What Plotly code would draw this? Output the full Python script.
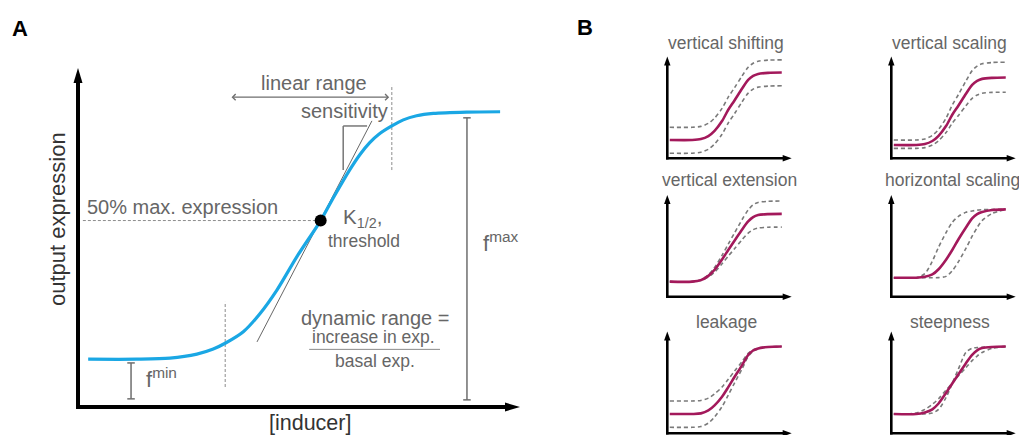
import plotly.graph_objects as go

W, H = 1019, 435
FONT = "Liberation Sans, Arial, Helvetica, sans-serif"
TEXT_GREY = "#666666"
LABEL_DARK = "#333333"
GUIDE_GREY = "#8c8c8c"
BLUE = "#1aa7e4"
CRIMSON = "#a3195b"
DASH_GREY = "#7a7a7a"

# ---------------- Panel A: response of a sensor to its inducer ----------------
INDUCER = [2.3, 13.3, 20.8, 26.9, 30.6, 33.3, 37.4, 41.2, 45.0, 49.5, 54.9,
           57.8, 61.3, 63.8, 66.0, 68.0, 71.0, 73.6, 76.6, 80.4, 87.9, 95.5]
EXPRESSION = [14.1, 14.1, 14.4, 15.6, 17.1, 18.8, 22.2, 27.6, 34.5, 44.3, 55.0,
              61.8, 69.6, 74.5, 78.0, 80.4, 82.9, 84.7, 85.9, 86.6, 87.0, 87.1]
K_HALF = 54.9        # inducer level giving half-maximal expression
HALF_EXPR = 55.0     # 50 % max. expression
TANGENT_X = [40.5, 66.5]
TANGENT_Y = [19.2, 84.4]

# ---------------- Panel B: how each parameter reshapes the curve ----------------
X_B = [2, 20, 27, 33, 38, 44, 49, 54, 60, 65, 69, 73, 81, 92]

TITLES_B = ["vertical shifting", "vertical scaling", "vertical extension",
            "horizontal scaling", "leakage", "steepness"]

SOLID_B = [
    [18.0, 18.0, 18.9, 21.9, 27.0, 36.6, 47.7, 56.8, 68.3, 77.1, 81.0, 83.0, 84.0, 84.3],
    [13.1, 13.1, 14.0, 17.0, 22.1, 31.7, 42.8, 51.9, 63.4, 72.2, 76.1, 78.1, 79.1, 79.4],
    [14.8, 14.8, 16.3, 20.5, 26.5, 36.6, 45.9, 55.0, 65.9, 74.0, 78.3, 80.3, 81.2, 81.4],
    [18.7, 18.7, 19.6, 21.9, 27.0, 36.4, 45.9, 56.5, 68.1, 77.0, 81.2, 83.2, 85.2, 85.9],
    [19.0, 19.0, 19.6, 22.5, 27.5, 36.0, 45.4, 55.3, 66.8, 77.0, 81.4, 83.4, 84.9, 85.3],
    [19.0, 19.0, 20.5, 23.6, 29.3, 39.7, 49.0, 58.1, 69.0, 77.2, 81.6, 83.8, 84.9, 85.3],
]
DASHED_B_1 = [
    [30.5, 30.5, 31.4, 34.4, 39.5, 49.1, 60.2, 69.3, 80.8, 89.6, 93.5, 95.5, 96.5, 96.8],
    [18.0, 18.0, 19.0, 22.5, 28.4, 39.5, 52.3, 62.8, 76.0, 86.2, 90.7, 93.0, 94.2, 94.5],
    [14.8, 14.8, 16.6, 21.6, 28.7, 40.7, 51.8, 62.6, 75.6, 85.2, 90.4, 92.7, 93.8, 94.1],
    [18.7, 18.7, 22.7, 34.9, 48.7, 62.9, 73.1, 79.0, 83.0, 84.3, 85.1, 85.5, 85.8, 86.0],
    [31.8, 31.8, 32.3, 34.6, 38.7, 45.5, 53.1, 61.1, 70.4, 78.6, 82.2, 83.8, 85.0, 85.3],
    [19.0, 19.0, 19.1, 19.9, 23.5, 35.2, 49.1, 63.4, 79.6, 83.7, 84.2, 84.6, 85.0, 85.3],
]
DASHED_B_2 = [
    [5.0, 5.0, 5.9, 8.9, 14.0, 23.6, 34.7, 43.8, 55.3, 64.1, 68.0, 70.0, 71.0, 71.3],
    [9.8, 9.8, 10.5, 13.0, 17.3, 25.3, 34.5, 42.1, 51.7, 59.0, 62.3, 64.0, 64.8, 65.0],
    [14.8, 14.8, 16.0, 19.4, 24.2, 32.3, 39.8, 47.2, 55.9, 62.5, 65.9, 67.5, 68.3, 68.4],
    [18.7, 18.7, 18.7, 18.7, 18.8, 20.0, 25.5, 34.5, 47.5, 59.5, 68.0, 74.8, 81.8, 85.8],
    [5.9, 5.9, 6.6, 10.1, 16.1, 26.2, 37.5, 49.4, 63.1, 75.4, 80.6, 83.0, 84.8, 85.3],
    [19.0, 20.0, 23.5, 28.5, 34.0, 42.5, 49.3, 56.5, 64.5, 71.5, 76.0, 79.5, 83.5, 85.3],
]

# ---------------- geometry of the subplots (pixels) ----------------
# origin pixel, pixels per data unit and the clip box of every subplot
A_GEOM = dict(ox=78.0, oy=407.0, sx=4.42, sy=3.39, box=(56, 542, 46, 430))
B_COLS = [667.3, 891.3]
B_ROWS = [158.3, 296.7, 433.3]
B_SX, B_SY = 1.244, 1.017
B_TITLE_POS = [(726, 43), (949, 43), (729, 180), (952, 180), (726, 322), (950, 322)]

fig = go.Figure()
layout = {}
shapes = []
annotations = []


def axis_names(idx):
    s = "" if idx == 1 else str(idx)
    return "x" + s, "y" + s, "xaxis" + s, "yaxis" + s


def add_axes(idx, ox, oy, sx, sy, box):
    px0, px1, py0, py1 = box
    xn, yn, xk, yk = axis_names(idx)
    layout[xk] = dict(domain=[px0 / W, px1 / W], range=[(px0 - ox) / sx, (px1 - ox) / sx],
                      visible=False, fixedrange=True, anchor=yn)
    layout[yk] = dict(domain=[1 - py1 / H, 1 - py0 / H], range=[(oy - py1) / sy, (oy - py0) / sy],
                      visible=False, fixedrange=True, anchor=xn)
    return xn, yn


def arrow_axes(xn, yn, sx, sy, width, head_len, head_half):
    """Black x/y axis lines ending in filled arrow heads at data value 100."""
    hx = head_len / sx
    hy = head_len / sy
    shapes.append(dict(type="line", xref=xn, yref=yn, x0=0, x1=0, y0=-width / 2 / sy, y1=100 - hy * 0.8,
                       layer="below", line=dict(color="black", width=width)))
    shapes.append(dict(type="line", xref=xn, yref=yn, x0=-width / 2 / sx, x1=100 - hx * 0.8, y0=0, y1=0,
                       layer="below", line=dict(color="black", width=width)))
    wx = head_half / sx
    wy = head_half / sy
    shapes.append(dict(type="path", xref=xn, yref=yn, fillcolor="black", line=dict(width=0),
                       layer="below", path=f"M {-wx},{100 - hy} L 0,100 L {wx},{100 - hy} Z"))
    shapes.append(dict(type="path", xref=xn, yref=yn, fillcolor="black", line=dict(width=0),
                       layer="below", path=f"M {100 - hx},{-wy} L 100,0 L {100 - hx},{wy} Z"))


# ================= Panel A =================
xa, ya = add_axes(1, **A_GEOM)
arrow_axes(xa, ya, A_GEOM["sx"], A_GEOM["sy"], width=4, head_len=15, head_half=4.5)


def guide(x0, y0, x1, y1, dash="3px,2px", color=GUIDE_GREY, width=1):
    shapes.append(dict(type="line", xref=xa, yref=ya, x0=x0, y0=y0, x1=x1, y1=y1, layer="below",
                       line=dict(color=color, width=width, dash=dash)))


# half-maximum level and the edges of the linear range
guide(1.1, HALF_EXPR, K_HALF, HALF_EXPR)
guide(33.3, 5.9, 33.3, 31.0)
guide(71.0, 69.9, 71.0, 95.0)

# slope triangle for sensitivity
guide(60.0, 69.9, 60.0, 82.9, dash="solid", color="#777777", width=1.5)
guide(60.0, 82.9, 65.4, 82.9, dash="solid", color="#777777", width=1.5)

# f_min and f_max brackets
for bx, b0, b1 in [(12.0, 2.4, 13.0), (88.0, 2.1, 85.3)]:
    guide(bx, b0, bx, b1, dash="solid", color="#6e6e6e", width=1.5)
    guide(bx - 0.85, b0, bx + 0.85, b0, dash="solid", color="#6e6e6e", width=1.5)
    guide(bx - 0.85, b1, bx + 0.85, b1, dash="solid", color="#6e6e6e", width=1.5)

# fraction bar of the dynamic-range definition
guide(52.3, 17.0, 81.9, 17.0, dash="solid", color="#8a8a8a", width=1)

# tangent at the threshold
fig.add_trace(go.Scatter(x=TANGENT_X, y=TANGENT_Y, xaxis=xa, yaxis=ya, mode="lines",
                         line=dict(color="#555555", width=0.9), hoverinfo="skip", showlegend=False))
# response curve
fig.add_trace(go.Scatter(x=INDUCER, y=EXPRESSION, xaxis=xa, yaxis=ya, mode="lines",
                         line=dict(color=BLUE, width=3.2, shape="spline", smoothing=0.8),
                         hoverinfo="skip", showlegend=False))
# threshold point
fig.add_trace(go.Scatter(x=[K_HALF], y=[HALF_EXPR], xaxis=xa, yaxis=ya, mode="markers",
                         marker=dict(color="black", size=12, line=dict(width=0)),
                         hoverinfo="skip", showlegend=False))

# linear range double arrow
annotations.append(dict(x=70.4, y=91.4, ax=34.4, ay=91.4, xref=xa, yref=ya, axref=xa, ayref=ya,
                        text="", showarrow=True, arrowhead=4, startarrowhead=4, arrowside="end+start",
                        arrowwidth=1.1, arrowsize=1.1, startarrowsize=1.1, arrowcolor="#6e6e6e",
                        standoff=0, startstandoff=0))


def label_a(text, x, y, size, xanchor="center", color=TEXT_GREY, **kw):
    annotations.append(dict(text=text, x=x, y=y, xref=xa, yref=ya, showarrow=False,
                            xanchor=xanchor, yanchor="middle",
                            font=dict(family=FONT, size=size, color=color), **kw))


label_a("50% max. expression", 1.5, 59.1, 20, xanchor="left")
label_a("linear range", 53.4, 95.7, 20)
label_a("sensitivity", 60.2, 87.2, 20)
label_a("K<sub>1/2</sub>,", 59.4, 55.9, 20.5, xanchor="left")
label_a("threshold", 64.7, 48.9, 17.5)
label_a("f<sup>max</sup>", 91.1, 48.6, 22, xanchor="left")
label_a("f<sup>min</sup>", 14.9, 8.6, 22, xanchor="left")
label_a("dynamic range =", 67.2, 26.3, 20)
label_a("increase in exp.", 66.9, 20.7, 17.5)
label_a("basal exp.", 67.3, 13.7, 17.5)
label_a("[inducer]", 52.6, -4.8, 21.5, color=LABEL_DARK)
label_a("output expression", -4.8, 55.4, 22, color=LABEL_DARK, textangle=-90)

# ================= Panel B =================
for i, title in enumerate(TITLES_B):
    col, row = i % 2, i // 2
    ox, oy = B_COLS[col], B_ROWS[row]
    box = (ox - 8, min(ox + 128, W), oy - 106, min(oy + 6, H))
    xn, yn = add_axes(i + 2, ox, oy, B_SX, B_SY, box)
    arrow_axes(xn, yn, B_SX, B_SY, width=2.6, head_len=9, head_half=3.2)
    for ys in (DASHED_B_1[i], DASHED_B_2[i]):
        fig.add_trace(go.Scatter(x=X_B, y=ys, xaxis=xn, yaxis=yn, mode="lines",
                                 line=dict(color=DASH_GREY, width=1.6, dash="4px,3px",
                                           shape="spline", smoothing=0.8),
                                 hoverinfo="skip", showlegend=False))
    fig.add_trace(go.Scatter(x=X_B, y=SOLID_B[i], xaxis=xn, yaxis=yn, mode="lines",
                             line=dict(color=CRIMSON, width=2.6, shape="spline", smoothing=0.8),
                             hoverinfo="skip", showlegend=False))
    tx, ty = B_TITLE_POS[i]
    annotations.append(dict(text=title, x=tx / W, y=1 - ty / H, xref="paper", yref="paper",
                            showarrow=False, xanchor="center", yanchor="middle",
                            font=dict(family=FONT, size=17.5, color=TEXT_GREY)))

# panel letters
for letter, px, py in [("A", 20, 28), ("B", 585, 27)]:
    annotations.append(dict(text=f"<b>{letter}</b>", x=px / W, y=1 - py / H, xref="paper", yref="paper",
                            showarrow=False, xanchor="center", yanchor="middle",
                            font=dict(family=FONT, size=22, color="black")))

fig.update_layout(
    width=W, height=H, margin=dict(l=0, r=0, t=0, b=0),
    paper_bgcolor="white", plot_bgcolor="rgba(0,0,0,0)",
    showlegend=False, shapes=shapes, annotations=annotations, **layout,
)
fig.write_html("out.html")
